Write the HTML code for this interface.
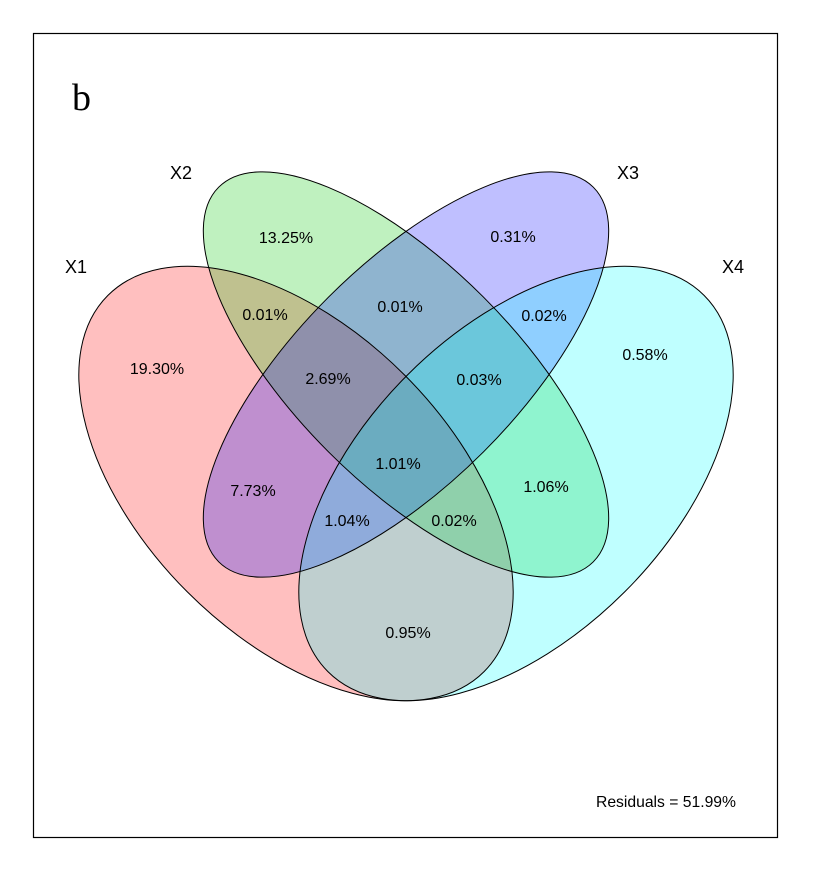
<!DOCTYPE html>
<html>
<head>
<meta charset="utf-8">
<style>
  html, body { margin:0; padding:0; background:#fff; }
  svg { display:block; }
  text { font-family: "Liberation Sans", Arial, sans-serif; fill:#000; }
</style>
</head>
<body>
<svg width="817" height="885" viewBox="0 0 817 885" xmlns="http://www.w3.org/2000/svg">
  <rect x="0" y="0" width="817" height="885" fill="#fff"/>
  <rect x="33.5" y="33.5" width="744" height="804" fill="none" stroke="#000" stroke-width="1.2"/>

  <!-- fills -->
  <g>
    <ellipse cx="296" cy="483.5" rx="266" ry="153.5" transform="rotate(45 296 483.5)" fill="rgb(255,0,0)" fill-opacity="0.25"/>
    <ellipse cx="406" cy="374.5" rx="264.9" ry="109.5" transform="rotate(45 406 374.5)" fill="rgb(0,200,0)" fill-opacity="0.25"/>
    <ellipse cx="406" cy="374.5" rx="264.9" ry="109.5" transform="rotate(-45 406 374.5)" fill="rgb(0,0,255)" fill-opacity="0.25"/>
    <ellipse cx="516" cy="483.5" rx="266" ry="153.5" transform="rotate(-45 516 483.5)" fill="rgb(0,255,255)" fill-opacity="0.25"/>
  </g>
  <!-- outlines -->
  <g fill="none" stroke="#000" stroke-width="1">
    <ellipse cx="296" cy="483.5" rx="266" ry="153.5" transform="rotate(45 296 483.5)"/>
    <ellipse cx="406" cy="374.5" rx="264.9" ry="109.5" transform="rotate(45 406 374.5)"/>
    <ellipse cx="406" cy="374.5" rx="264.9" ry="109.5" transform="rotate(-45 406 374.5)"/>
    <ellipse cx="516" cy="483.5" rx="266" ry="153.5" transform="rotate(-45 516 483.5)"/>
  </g>

  <!-- panel letter -->
  <text x="72" y="110" style="font-family:'Liberation Serif','Times New Roman',serif" font-size="38">b</text>

  <!-- set labels -->
  <g font-size="18">
    <text x="65" y="273">X1</text>
    <text x="170" y="179">X2</text>
    <text x="617" y="179">X3</text>
    <text x="722" y="273">X4</text>
  </g>

  <!-- fractions -->
  <g font-size="16" text-anchor="middle">
    <text x="286" y="243">13.25%</text>
    <text x="513" y="242">0.31%</text>
    <text x="265" y="320">0.01%</text>
    <text x="400" y="312">0.01%</text>
    <text x="544" y="321">0.02%</text>
    <text x="157" y="374">19.30%</text>
    <text x="328" y="384">2.69%</text>
    <text x="479" y="385">0.03%</text>
    <text x="645" y="360">0.58%</text>
    <text x="398" y="469">1.01%</text>
    <text x="253" y="496">7.73%</text>
    <text x="546" y="492">1.06%</text>
    <text x="347" y="526">1.04%</text>
    <text x="454" y="526">0.02%</text>
    <text x="408" y="638">0.95%</text>
  </g>

  <text x="596" y="807" font-size="15.7">Residuals = 51.99%</text>
</svg>
</body>
</html>
